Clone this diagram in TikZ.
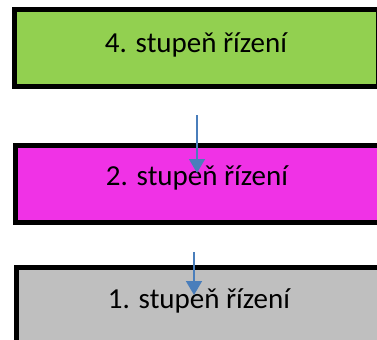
\documentclass[tikz,border=0pt]{standalone}
\usepackage{fontspec}
\setmainfont{Carlito}
\usetikzlibrary{arrows.meta}
\definecolor{lvgreen}{HTML}{92D050}
\definecolor{lvpink}{HTML}{F032E6}
\definecolor{lvgray}{HTML}{BFBFBF}
\definecolor{lvblue}{HTML}{4A7EBB}
\begin{document}
\begin{tikzpicture}[x=1bp,y=-1bp,
  levelbox/.style={draw=black,line width=5bp},
  leveltext/.style={font=\fontsize{29bp}{34bp}\selectfont,text=black,inner sep=0pt,anchor=base},
  flow/.style={draw=lvblue,line width=1.6bp,-{Triangle[width=16bp,length=14bp]}}]
\useasboundingbox (0,0) rectangle (377,340);
\clip (0,0) rectangle (377,340);
\path[levelbox,fill=lvgreen] (14.5,9.5) rectangle (378.5,86.5);
\path[levelbox,fill=lvpink] (15.5,145.5) rectangle (385,222.5);
\path[levelbox,fill=lvgray] (16.5,267.5) rectangle (385,360);
\node[leveltext] (t4) at (196,52) {4. stupeň řízení};
\node[leveltext] (t2) at (197,185) {2. stupeň řízení};
\node[leveltext] (t1) at (199,308) {1. stupeň řízení};
\coordinate (a1s) at (197,115);
\coordinate (a1e) at (197,173);
\coordinate (a2s) at (194,252);
\coordinate (a2e) at (194,295);
\draw[flow] (a1s) -- (a1e);
\draw[flow] (a2s) -- (a2e);
\end{tikzpicture}
\end{document}
